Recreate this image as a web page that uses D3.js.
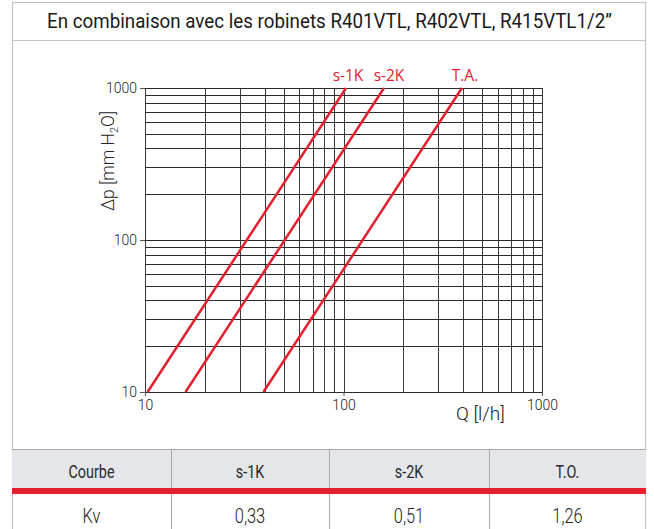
<!DOCTYPE html>
<html>
<head>
<meta charset="utf-8">
<script src="https://cdn.jsdelivr.net/npm/d3@7"></script>
<style>
  html, body { margin: 0; padding: 0; background: #fff; }
  svg { display: block; }
</style>
</head>
<body>
<svg id="chart" width="654" height="529"></svg>
<script>
// Pressure-drop curves (Q in l/h, Δp in mm H2O)
const dpRange = [10, 1000];
const seriesNames = ["s-1K", "s-2K", "T.A."];
const seriesQ = [
  [10.3, 103],
  [16.0, 160],
  [39.5, 395]
];
const xTickLabels = [10, 100, 1000];
const yTickLabels = [10, 100, 1000];
const tableHeader = ["Courbe", "s-1K", "s-2K", "T.O."];
const tableRow = ["Kv", "0,33", "0,51", "1,26"];

const red = "#e2202f";
const ink = "#222";
const svg = d3.select("#chart");

// Condensed-looking text: a horizontally squeezed Roboto
function condText(sel, cx, y, str, size, weight, sx, fill) {
  return sel.append("text")
    .attr("transform", `translate(${cx},${y}) scale(${sx},1)`)
    .attr("text-anchor", "middle")
    .attr("font-family", "Roboto, sans-serif")
    .attr("font-weight", weight)
    .attr("font-size", size).attr("fill", fill || ink).text(str);
}

// Outer frame and title
const frameL = 12, frameR = 646;
svg.append("rect").attr("x", frameL + 0.5).attr("y", 2.5)
  .attr("width", frameR - frameL - 1).attr("height", 540)
  .attr("fill", "none").attr("stroke", "#c4c4c4").attr("stroke-width", 1.2);
svg.append("line").attr("x1", frameL).attr("x2", frameR).attr("y1", 40.5).attr("y2", 40.5)
  .attr("stroke", "#c4c4c4").attr("stroke-width", 1.2);
svg.append("text")
  .attr("x", 47).attr("y", 28)
  .attr("font-family", "Roboto, sans-serif").attr("font-weight", 400)
  .attr("font-size", 19.5).attr("fill", "#1a1a1a")
  .attr("textLength", 565).attr("lengthAdjust", "spacingAndGlyphs")
  .text("En combinaison avec les robinets R401VTL, R402VTL, R415VTL1/2\u201D");

// Log-log scales
const x = d3.scaleLog().domain([10, 1000]).range([145, 542]);
const y = d3.scaleLog().domain([10, 1000]).range([392, 88]);

const g = svg.append("g");
const gridVals = [];
[10, 100].forEach(d => { for (let k = 1; k <= 10; k++) gridVals.push(d * k); });
const uniq = Array.from(new Set(gridVals));

g.selectAll(".vg").data(uniq).join("line")
  .attr("x1", d => Math.round(x(d)) + 0.5).attr("x2", d => Math.round(x(d)) + 0.5)
  .attr("y1", y(1000)).attr("y2", y(10))
  .attr("stroke", "#3a3a3a").attr("stroke-width", 1);
g.selectAll(".hg").data(uniq).join("line")
  .attr("y1", d => Math.round(y(d)) + 0.5).attr("y2", d => Math.round(y(d)) + 0.5)
  .attr("x1", x(10)).attr("x2", x(1000))
  .attr("stroke", "#2a2a2a").attr("stroke-width", 1.2);

// Axes
const yAxis = d3.axisLeft(y).tickValues(yTickLabels).tickFormat(d3.format("d")).tickSize(5).tickPadding(3);
const yA = g.append("g").attr("transform", `translate(${x(10)},0)`).call(yAxis);
yA.select(".domain").remove();
yA.selectAll("line").attr("stroke", "#555");
yA.selectAll("text").attr("font-family", "Roboto, sans-serif").attr("font-weight", 300)
  .attr("font-size", 14).attr("fill", ink);

const xAxis = d3.axisBottom(x).tickValues(xTickLabels).tickFormat(d3.format("d")).tickSize(4).tickPadding(4);
const xA = g.append("g").attr("transform", `translate(0,${y(10)})`).call(xAxis);
xA.select(".domain").remove();
xA.selectAll("line").attr("stroke", "#555");
xA.selectAll("text").attr("font-family", "Roboto, sans-serif").attr("font-weight", 300)
  .attr("font-size", 14).attr("fill", ink);

// Axis titles
svg.append("text").attr("font-family", "Roboto, sans-serif").attr("font-weight", 300)
  .attr("font-size", 19).attr("fill", ink)
  .attr("x", 456).attr("y", 420).text("Q [l/h]");
const yt = svg.append("text").attr("font-family", "Roboto, sans-serif").attr("font-weight", 300)
  .attr("font-size", 17.5).attr("fill", ink)
  .attr("transform", "translate(114,161) rotate(-90)").attr("text-anchor", "middle");
yt.append("tspan").text("\u0394p [mm H");
yt.append("tspan").attr("font-size", 11).attr("dy", 4).text("2");
yt.append("tspan").attr("dy", -4).text("O]");

// Curves
const line = d3.line().x(d => x(d[0])).y(d => y(d[1]));
seriesQ.forEach(qs => {
  const pts = qs.map((q, j) => [q, dpRange[j]]);
  g.append("path").datum(pts).attr("d", line)
    .attr("fill", "none").attr("stroke", red).attr("stroke-width", 2.5);
});
const labelX = [348, 389, 465];
seriesNames.forEach((n, i) => {
  svg.append("text").attr("x", labelX[i]).attr("y", 81).attr("text-anchor", "middle")
    .attr("font-family", "'Open Sans', sans-serif").attr("font-size", 15.5).attr("fill", red).text(n);
});

// Kv table
const colX = [12, 171, 329, 489, 646];
const tHead = 449, tRed = 488, tRed2 = 494, tBottom = 540;
svg.append("rect").attr("x", colX[0]).attr("y", tHead).attr("width", colX[4] - colX[0]).attr("height", tRed - tHead)
  .attr("fill", "#e4e6ea");
svg.append("line").attr("x1", colX[0]).attr("x2", colX[4]).attr("y1", tHead + 0.5).attr("y2", tHead + 0.5)
  .attr("stroke", "#a8a8a8");
svg.append("rect").attr("x", colX[0]).attr("y", tRed).attr("width", colX[4] - colX[0]).attr("height", tRed2 - tRed)
  .attr("fill", red);
[1, 2, 3].forEach(i => {
  svg.append("line").attr("x1", colX[i] + 0.5).attr("x2", colX[i] + 0.5).attr("y1", tHead).attr("y2", tRed)
    .attr("stroke", "#a8a8a8");
  svg.append("line").attr("x1", colX[i] + 0.5).attr("x2", colX[i] + 0.5).attr("y1", tRed2).attr("y2", tBottom)
    .attr("stroke", "#a8a8a8");
});
tableHeader.forEach((t, i) => {
  condText(svg, (colX[i] + colX[i + 1]) / 2, 478, t, 18, 400, 0.8, "#2a2a2a");
});
tableRow.forEach((t, i) => {
  condText(svg, (colX[i] + colX[i + 1]) / 2, 523, t, 20, 300, 0.82);
});
</script>
</body>
</html>
